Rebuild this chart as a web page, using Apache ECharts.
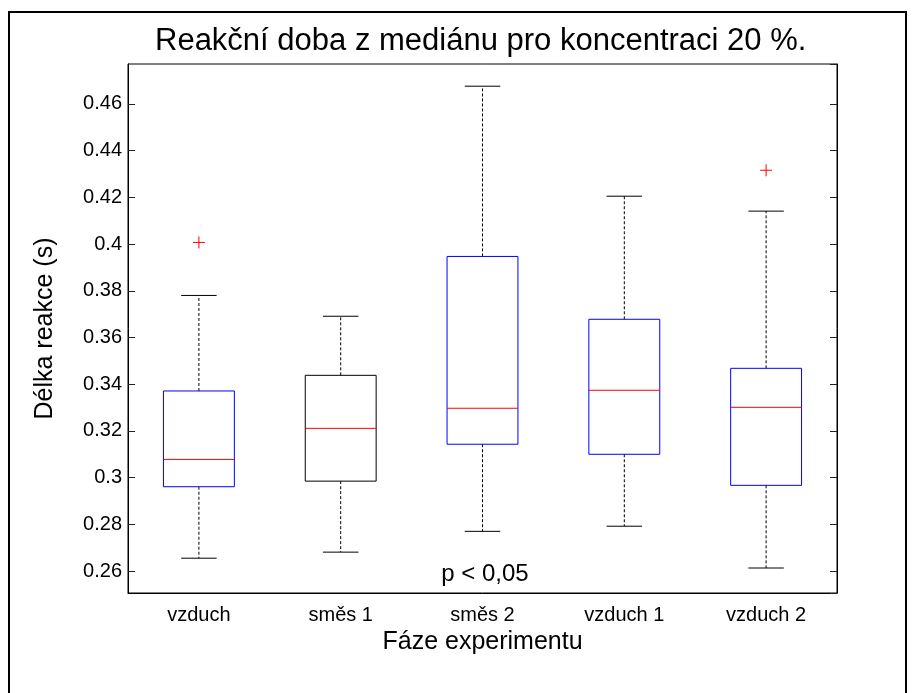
<!DOCTYPE html>
<html style="height: 100%">
<head>
    <meta charset="utf-8">
    <script src="https://cdn.jsdelivr.net/npm/echarts@6/dist/echarts.min.js"></script>
    <title>Reakční doba</title>
</head>
<body style="height: 100%; margin: 0; background: #fff">
<div id="container" style="width: 912px; height: 693px"></div>
<script type="text/javascript">

    // phases of the experiment
    let categories = ['vzduch', 'směs 1', 'směs 2', 'vzduch 1', 'vzduch 2']

    // box statistics (s)
    let lowerWhisker = [0.2655, 0.2681, 0.2770, 0.2792, 0.2613]
    let q1           = [0.2961, 0.2985, 0.3143, 0.3100, 0.2967]
    let median       = [0.3078, 0.3211, 0.3297, 0.3374, 0.3301]
    let q3           = [0.3371, 0.3438, 0.3947, 0.3678, 0.3468]
    let upperWhisker = [0.3780, 0.3691, 0.4676, 0.4205, 0.4141]

    // outliers: [category index, value]
    let outliers = [[0, 0.4007], [4, 0.4316]]

    let yTicks = [0.26, 0.28, 0.30, 0.32, 0.34, 0.36, 0.38, 0.40, 0.42, 0.44, 0.46]
    let yMin = 0.2506
    let yMax = 0.4771

    let boxEdge = ['#0000ff', '#000000', '#0000ff', '#0000ff', '#0000ff']

    let boxData = categories.map((c, i) =>
        [i, lowerWhisker[i], q1[i], median[i], q3[i], upperWhisker[i]])

    function renderBox(params, api) {
        let i = api.value(0)
        let band = api.size([1, 0])[0]
        let cx = api.coord([i, yMin])[0]
        let half = band * 0.25
        let capHalf = band * 0.125
        let y = k => api.coord([i, api.value(k)])[1]
        let yLo = y(1), yQ1 = y(2), yMed = y(3), yQ3 = y(4), yHi = y(5)
        let dash = {stroke: '#000', lineWidth: 1, lineDash: [3, 2]}
        let solid = {stroke: '#000', lineWidth: 1}
        return {
            type: 'group',
            children: [
                {type: 'line', shape: {x1: cx, y1: yQ3, x2: cx, y2: yHi}, style: dash},
                {type: 'line', shape: {x1: cx, y1: yQ1, x2: cx, y2: yLo}, style: dash},
                {type: 'line', shape: {x1: cx - capHalf, y1: yHi, x2: cx + capHalf, y2: yHi}, style: solid},
                {type: 'line', shape: {x1: cx - capHalf, y1: yLo, x2: cx + capHalf, y2: yLo}, style: solid},
                {type: 'rect', shape: {x: cx - half, y: yQ3, width: half * 2, height: yQ1 - yQ3},
                    style: {fill: 'none', stroke: boxEdge[i], lineWidth: 1}},
                {type: 'line', shape: {x1: cx - half, y1: yMed, x2: cx + half, y2: yMed},
                    style: {stroke: '#ff0000', lineWidth: 1}}
            ]
        }
    }

    function renderOutlier(params, api) {
        let p = api.coord([api.value(0), api.value(1)])
        let s = 6
        let st = {stroke: '#ff0000', lineWidth: 1}
        return {
            type: 'group',
            children: [
                {type: 'line', shape: {x1: p[0] - s, y1: p[1], x2: p[0] + s, y2: p[1]}, style: st},
                {type: 'line', shape: {x1: p[0], y1: p[1] - s, x2: p[0], y2: p[1] + s}, style: st}
            ]
        }
    }

    let font = 'Liberation Sans, Arial, sans-serif'

    let yAxisBase = {
        type: 'value',
        min: yMin,
        max: yMax,
        splitNumber: 11,
        minInterval: 0.02,
        maxInterval: 0.02,
        splitLine: {show: false},
        axisLine: {show: true, lineStyle: {color: '#000', width: 1}},
        axisTick: {show: true, inside: true, length: 7, lineStyle: {color: '#222'}}
    }

    let dom = document.getElementById('container')
    let chart = echarts.init(dom, null, {renderer: 'canvas'})
    chart.setOption({
        animation: false,
        backgroundColor: '#fff',
        title: {
            text: 'Reakční doba z mediánu pro koncentraci 20 %.',
            left: 150,
            top: 21,
            textStyle: {fontFamily: font, fontSize: 31, fontWeight: 'normal', color: '#000'}
        },
        grid: {
            left: 128, top: 64, right: 75, bottom: 100,
            show: true, borderColor: '#000', borderWidth: 1, backgroundColor: '#fff'
        },
        xAxis: {
            type: 'category',
            data: categories,
            name: 'Fáze experimentu',
            nameLocation: 'middle',
            nameGap: 36,
            nameTextStyle: {fontFamily: font, fontSize: 25, color: '#000'},
            axisLine: {show: true, lineStyle: {color: '#000', width: 1}},
            axisTick: {show: false},
            axisLabel: {fontFamily: font, fontSize: 20, color: '#000', margin: 12}
        },
        yAxis: [
            Object.assign({}, yAxisBase, {
                position: 'left',
                name: 'Délka reakce (s)',
                nameLocation: 'middle',
                nameGap: 70,
                nameRotate: 90,
                nameTextStyle: {fontFamily: font, fontSize: 25, color: '#000'},
                axisLabel: {
                    fontFamily: font, fontSize: 20, color: '#000', margin: 6,
                    showMinLabel: false, showMaxLabel: false,
                    formatter: v => {
                        let r = Math.round(v * 100) / 100
                        return yTicks.some(t => Math.abs(t - r) < 1e-9) && Math.abs(v - r) < 1e-6 ? String(r) : ''
                    }
                }
            }),
            Object.assign({}, yAxisBase, {
                position: 'right',
                axisLabel: {show: false}
            })
        ],
        graphic: [
            {
                type: 'rect',
                shape: {x: 9, y: 12, width: 897, height: 700},
                style: {fill: 'none', stroke: '#000', lineWidth: 2},
                z: 100
            },
            {
                type: 'text',
                x: 485, y: 574,
                style: {
                    text: 'p < 0,05', fontFamily: font, fontSize: 24, fill: '#000',
                    align: 'center', verticalAlign: 'middle'
                },
                z: 100
            }
        ],
        series: [
            {
                type: 'custom',
                renderItem: renderBox,
                data: boxData,
                encode: {x: 0, y: [1, 2, 3, 4, 5]},
                clip: false
            },
            {
                type: 'custom',
                renderItem: renderOutlier,
                data: outliers,
                encode: {x: 0, y: 1}
            }
        ]
    }, true)

</script>
</body>
</html>
